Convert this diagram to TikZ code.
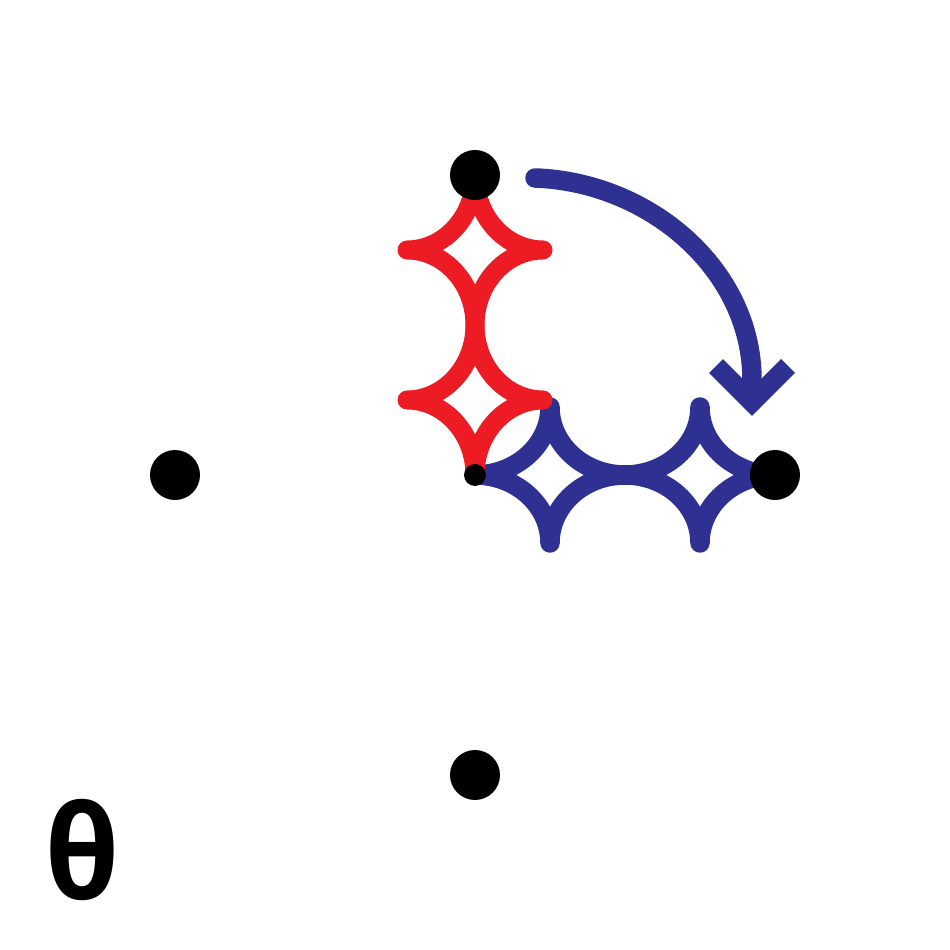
\documentclass[tikz,border=0pt]{standalone}
\usepackage{fontspec}
\newfontfamily\thetafont{Open Sans}
\definecolor{myred}{RGB}{237,28,36}
\definecolor{myblue}{RGB}{46,49,146}
\begin{document}
\begin{tikzpicture}[x=0.02cm,y=0.02cm,
  dot/.style={circle,fill=black,inner sep=0pt,minimum size=1cm},
  smalldot/.style={circle,fill=black,inner sep=0pt,minimum size=0.44cm},
  redline/.style={draw=myred,line width=0.38cm,line cap=round,line join=round},
  blueline/.style={draw=myblue,line width=0.39cm,line cap=round,line join=round},
  chevron/.style={draw=myblue,line width=0.39cm,line cap=butt,line join=miter}]
\useasboundingbox (0,0) rectangle (950,950);
% nodes (positions)
\coordinate (c) at (475,475);
\coordinate (t) at (475,775);
\coordinate (r) at (775,475);
% blue chain
\draw[blueline] (c) arc[start angle=270,end angle=360,x radius=75,y radius=68]
  arc[start angle=180,end angle=360,x radius=75,y radius=68]
  arc[start angle=180,end angle=270,x radius=75,y radius=68];
\draw[blueline] (c) arc[start angle=90,end angle=0,x radius=75,y radius=68]
  arc[start angle=180,end angle=0,x radius=75,y radius=68]
  arc[start angle=180,end angle=90,x radius=75,y radius=68];
% red chain
\draw[redline] (t) arc[start angle=0,end angle=-90,x radius=68,y radius=75]
  arc[start angle=90,end angle=-90,x radius=68,y radius=75]
  arc[start angle=90,end angle=0,x radius=68,y radius=75];
\draw[redline] (t) arc[start angle=180,end angle=270,x radius=68,y radius=75]
  arc[start angle=90,end angle=270,x radius=68,y radius=75]
  arc[start angle=90,end angle=180,x radius=68,y radius=75];
% rotation arrow
\coordinate (as) at (535,772);
\coordinate (ae) at (752,548);
\draw[blueline] (as) .. controls (650,768) and (752,680) .. (752,570) -- (ae);
\draw[chevron] (716,584) -- (ae) -- (788,584);
% dots
\node[dot] (top) at (t) {};
\node[dot] (left) at (175,475) {};
\node[dot] (right) at (r) {};
\node[dot] (bottom) at (475,175) {};
\node[smalldot] (center) at (c) {};
% theta
\node[inner sep=0pt,xscale=0.92] (theta) at (82,100) {\thetafont\bfseries\fontsize{74}{74}\selectfont θ};
\end{tikzpicture}
\end{document}
